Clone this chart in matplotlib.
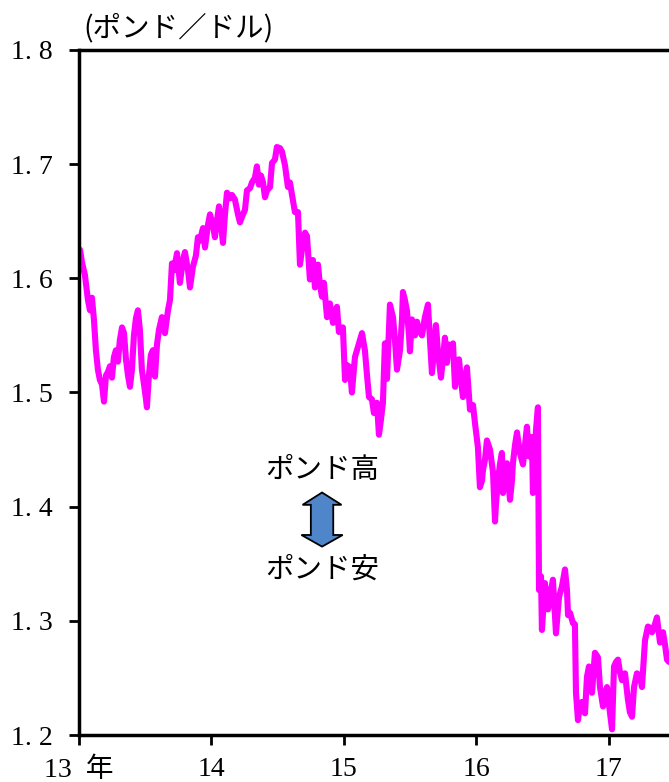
import numpy as np
import matplotlib
matplotlib.use("Agg")
from matplotlib import pyplot as plt
from matplotlib.patches import Polygon

# 年(小数表示)
t = [13.008, 13.023, 13.045, 13.068, 13.083, 13.098, 13.113, 13.128, 13.143, 13.158,
     13.174, 13.189, 13.204, 13.219, 13.234, 13.249, 13.264, 13.279, 13.294, 13.309,
     13.325, 13.340, 13.355, 13.370, 13.385, 13.400, 13.415, 13.430, 13.445, 13.460,
     13.475, 13.491, 13.506, 13.513, 13.528, 13.543, 13.558, 13.574, 13.589, 13.604,
     13.626, 13.649, 13.672, 13.687, 13.702, 13.717, 13.740, 13.762, 13.785, 13.800,
     13.823, 13.838, 13.860, 13.883, 13.898, 13.913, 13.936, 13.951, 13.974, 13.989,
     14.011, 14.026, 14.042, 14.057, 14.072, 14.087, 14.102, 14.117, 14.140, 14.155,
     14.177, 14.200, 14.215, 14.238, 14.253, 14.268, 14.291, 14.306, 14.328, 14.343,
     14.358, 14.374, 14.389, 14.404, 14.419, 14.442, 14.457, 14.479, 14.494, 14.517,
     14.532, 14.555, 14.577, 14.592, 14.608, 14.630, 14.653, 14.668, 14.683, 14.706,
     14.721, 14.743, 14.766, 14.781, 14.804, 14.819, 14.834, 14.849, 14.872, 14.894,
     14.917, 14.932, 14.947, 14.962, 14.977, 14.992,
     15.008, 15.023, 15.045, 15.060, 15.083, 15.106, 15.121, 15.136, 15.158, 15.174,
     15.189, 15.211, 15.226, 15.249, 15.264, 15.279, 15.294, 15.309, 15.325, 15.347,
     15.370, 15.385, 15.400, 15.423, 15.438, 15.445, 15.460, 15.475, 15.491, 15.498,
     15.513, 15.536, 15.551, 15.566, 15.589, 15.611, 15.634, 15.649, 15.664, 15.679,
     15.694, 15.709, 15.732, 15.747, 15.762, 15.777, 15.792, 15.808, 15.823, 15.838,
     15.853, 15.868, 15.883, 15.898, 15.913, 15.928, 15.951, 15.974, 15.989,
     16.011, 16.026, 16.042, 16.049, 16.064, 16.079, 16.102, 16.125, 16.140, 16.147,
     16.162, 16.177, 16.192, 16.200, 16.215, 16.230, 16.253, 16.268, 16.275, 16.291,
     16.306, 16.328, 16.351, 16.366, 16.381, 16.396, 16.419, 16.426, 16.442, 16.449,
     16.464, 16.472, 16.487, 16.494, 16.509, 16.517, 16.540, 16.555, 16.577, 16.600,
     16.623, 16.645, 16.668, 16.683, 16.691, 16.706, 16.728, 16.743, 16.751, 16.766,
     16.781, 16.796, 16.819, 16.834, 16.849, 16.872, 16.894, 16.917, 16.932, 16.955,
     16.970, 16.985, 17.008, 17.023, 17.038, 17.053, 17.068, 17.083, 17.098, 17.121,
     17.143, 17.158, 17.174, 17.189, 17.211, 17.234, 17.249, 17.272, 17.294, 17.309,
     17.325, 17.347, 17.362, 17.385, 17.408, 17.423, 17.438, 17.453]

# ポンド/ドル
gbpusd = [1.625, 1.614, 1.603, 1.581, 1.572, 1.583, 1.564, 1.537, 1.520, 1.511,
          1.507, 1.492, 1.515, 1.518, 1.523, 1.513, 1.531, 1.537, 1.527, 1.546,
          1.557, 1.552, 1.529, 1.515, 1.505, 1.520, 1.550, 1.565, 1.572, 1.555,
          1.520, 1.507, 1.494, 1.487, 1.515, 1.533, 1.537, 1.514, 1.542, 1.555,
          1.566, 1.552, 1.572, 1.581, 1.613, 1.607, 1.622, 1.596, 1.616, 1.623,
          1.607, 1.592, 1.610, 1.620, 1.636, 1.633, 1.644, 1.627, 1.647, 1.656,
          1.647, 1.636, 1.651, 1.663, 1.647, 1.631, 1.656, 1.675, 1.670, 1.673,
          1.669, 1.656, 1.649, 1.656, 1.660, 1.677, 1.679, 1.684, 1.688, 1.698,
          1.682, 1.690, 1.684, 1.671, 1.677, 1.680, 1.701, 1.704, 1.715, 1.714,
          1.711, 1.699, 1.680, 1.684, 1.673, 1.658, 1.658, 1.612, 1.625, 1.640,
          1.637, 1.599, 1.616, 1.592, 1.612, 1.594, 1.584, 1.596, 1.566, 1.578,
          1.561, 1.568, 1.575, 1.553, 1.555, 1.557,
          1.511, 1.524, 1.522, 1.500, 1.531, 1.540, 1.546, 1.552, 1.537, 1.515,
          1.496, 1.494, 1.482, 1.491, 1.463, 1.476, 1.491, 1.543, 1.512, 1.577,
          1.566, 1.546, 1.520, 1.537, 1.564, 1.588, 1.581, 1.572, 1.550, 1.536,
          1.564, 1.550, 1.562, 1.555, 1.550, 1.566, 1.577, 1.546, 1.517, 1.537,
          1.559, 1.536, 1.513, 1.529, 1.548, 1.526, 1.542, 1.536, 1.543, 1.505,
          1.520, 1.529, 1.511, 1.496, 1.511, 1.522, 1.485, 1.489, 1.473,
          1.452, 1.417, 1.423, 1.432, 1.441, 1.458, 1.450, 1.430, 1.387, 1.402,
          1.423, 1.437, 1.447, 1.412, 1.428, 1.438, 1.406, 1.423, 1.438, 1.454,
          1.465, 1.447, 1.437, 1.454, 1.470, 1.444, 1.461, 1.412, 1.441, 1.467,
          1.487, 1.327, 1.339, 1.292, 1.318, 1.333, 1.310, 1.321, 1.336, 1.289,
          1.321, 1.330, 1.345, 1.327, 1.305, 1.307, 1.298, 1.297, 1.237, 1.213,
          1.226, 1.229, 1.219, 1.251, 1.260, 1.237, 1.272, 1.268, 1.242, 1.225,
          1.235, 1.242, 1.219, 1.205, 1.260, 1.264, 1.266, 1.255, 1.248, 1.254,
          1.231, 1.220, 1.216, 1.242, 1.254, 1.252, 1.242, 1.283, 1.295, 1.294,
          1.290, 1.297, 1.303, 1.281, 1.290, 1.279, 1.266, 1.264]

xticks = [13, 14, 15, 16, 17]
xlabels = ["13  年", "14", "15", "16", "17"]
yticks = [1.2, 1.3, 1.4, 1.5, 1.6, 1.7, 1.8]
ylabels = ["1. 2", "1. 3", "1. 4", "1. 5", "1. 6", "1. 7", "1. 8"]

jp = ["Noto Sans CJK JP", "DejaVu Sans"]
num = ["Liberation Serif", "Noto Sans CJK JP"]

fig = plt.figure(figsize=(6.69, 7.82), dpi=100)
ax = fig.add_axes([0.118, 0.0601, 0.882, 0.876])

ax.plot(t, gbpusd, color="#ff00ff", lw=4.4, solid_joinstyle="round", solid_capstyle="round")

ax.set_xlim(13, 17.453)
ax.set_ylim(1.2, 1.8)
ax.set_xticks(xticks)
ax.set_xticklabels(xlabels, family=num, fontsize=20)
ax.set_yticks(yticks)
ax.set_yticklabels(ylabels, family=num, fontsize=20)
ax.tick_params(axis="both", direction="out", length=7, width=2, color="black")
ax.tick_params(axis="y", pad=12)
ax.tick_params(axis="x", pad=9)

for s in ["left", "top", "bottom"]:
    ax.spines[s].set_linewidth(2.5)
ax.spines["right"].set_visible(False)

# 単位
fig.text(0.125, 0.964, "(ポンド／ドル)", family=jp, fontsize=20.5, ha="left", va="center")

# ポンド高・安の矢印
ax.text(0.412, 0.387, "ポンド高", transform=ax.transAxes, family=jp, fontsize=20.5,
        ha="center", va="center")
ax.text(0.412, 0.242, "ポンド安", transform=ax.transAxes, family=jp, fontsize=20.5,
        ha="center", va="center")

cx = 0.412
arrow = [(cx, 0.354), (cx + 0.033, 0.336), (cx + 0.019, 0.336), (cx + 0.019, 0.292),
         (cx + 0.035, 0.292), (cx, 0.275), (cx - 0.035, 0.292), (cx - 0.019, 0.292),
         (cx - 0.019, 0.336), (cx - 0.033, 0.336)]
ax.add_patch(Polygon(arrow, closed=True, transform=ax.transAxes,
                     facecolor="#4f86c9", edgecolor="black", lw=1.3, zorder=3))

plt.savefig("out.png", dpi=100)
